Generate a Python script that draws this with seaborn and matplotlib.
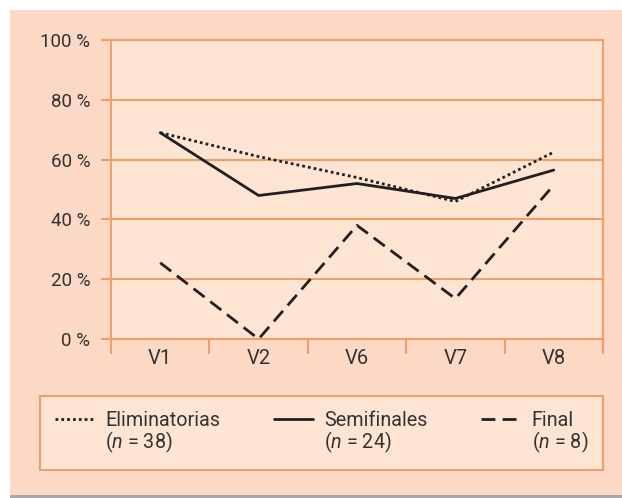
import pandas as pd
import matplotlib.pyplot as plt
import seaborn as sns
from matplotlib.lines import Line2D
from matplotlib.patches import Rectangle

# values (%)
etapas = ["V1", "V2", "V6", "V7", "V8"]
eliminatorias = [69, 61, 54, 46, 62.5]
semifinales = [69, 48, 52, 47, 56.5]
final = [25.5, 0, 38, 13.5, 51.5]
series = ["Eliminatorias", "Semifinales", "Final"]
n_vals = ["38", "24", "8"]
yticks = [0, 20, 40, 60, 80, 100]

orange = "#f79a64"
peach = "#fbd9c4"
peach_light = "#fde4d3"
ink = "#231f20"

df = pd.DataFrame({
    "etapa": etapas * 3,
    "valor": eliminatorias + semifinales + final,
    "serie": [s for s in series for _ in etapas],
})

sns.set_style("white")
plt.rcParams["font.family"] = ["Roboto", "DejaVu Sans"]
plt.rcParams["mathtext.fontset"] = "custom"
plt.rcParams["mathtext.it"] = "Roboto:italic"
plt.rcParams["mathtext.rm"] = "Roboto"

fig = plt.figure(figsize=(6.22, 4.98), dpi=100, facecolor="white")
# page background with bottom shadow
fig.patches.append(Rectangle((10/622, 0), 1, 3/498, transform=fig.transFigure,
                             facecolor="#a8a8a8", edgecolor="none", zorder=-3))
fig.patches.append(Rectangle((10/622, 3/498), 1, 485/498, transform=fig.transFigure,
                             facecolor=peach, edgecolor="none", zorder=-2))

ax = fig.add_axes([111/622, 1 - 339/498, 492/622, 299/498])
ax.set_facecolor(peach_light)

sns.lineplot(data=df, x="etapa", y="valor", style="serie", ax=ax,
             color=ink, linewidth=2.0, sort=False,
             dashes={"Eliminatorias": (1, 1.1), "Semifinales": "", "Final": (5, 2.6)})
handles, labels = ax.get_legend_handles_labels()
ax.get_legend().remove()

ax.set_xlim(-0.5, 4.5)
ax.set_ylim(0, 100)
ax.set_yticks(yticks)
ax.set_yticklabels([f"{v} %" for v in yticks])
ax.set_xticks(range(len(etapas)))
ax.set_xticklabels(etapas)
ax.set_xticks([i - 0.5 for i in range(len(etapas) + 1)], minor=True)
ax.set_xlabel("")
ax.set_ylabel("")

ax.yaxis.grid(True, color=orange, linewidth=1.4)
ax.set_axisbelow(True)
for side in ["left", "right", "top", "bottom"]:
    ax.spines[side].set_color(orange)
    ax.spines[side].set_linewidth(1.4)

ax.tick_params(axis="y", length=7, width=1.4, color=orange, pad=8,
               labelsize=13.5, labelcolor="#333333", left=True)
ax.tick_params(axis="x", which="major", length=0, pad=7,
               labelsize=14.5, labelcolor="#333333")
ax.tick_params(axis="x", which="minor", length=11, width=1.4, color=orange,
               bottom=True, direction="out")

# legend: two rows per column, second row holds the n
blank = Line2D([], [], color="none")
hmap = dict(zip(labels, handles))
leg_h, leg_l = [], []
for s, n in zip(series, n_vals):
    proxy = Line2D([], [])
    proxy.update_from(hmap[s])
    proxy.set_color(ink)
    leg_h += [proxy, blank]
    leg_l += [s, f"($n$ = {n})"]

leg = fig.legend(leg_h, leg_l, ncol=3, loc="center", mode="expand",
                 bbox_to_anchor=(40/622, 1 - 471/498, 563/622, 76/498),
                 fontsize=14.2, handlelength=2.0, handletextpad=0.55,
                 labelspacing=0.0, borderpad=0.75, borderaxespad=0,
                 fancybox=False, framealpha=1)
leg.get_frame().set_facecolor(peach_light)
leg.get_frame().set_edgecolor(orange)
leg.get_frame().set_linewidth(1.4)
for t in leg.get_texts():
    t.set_color("#333333")

plt.savefig("out.png", dpi=100)
